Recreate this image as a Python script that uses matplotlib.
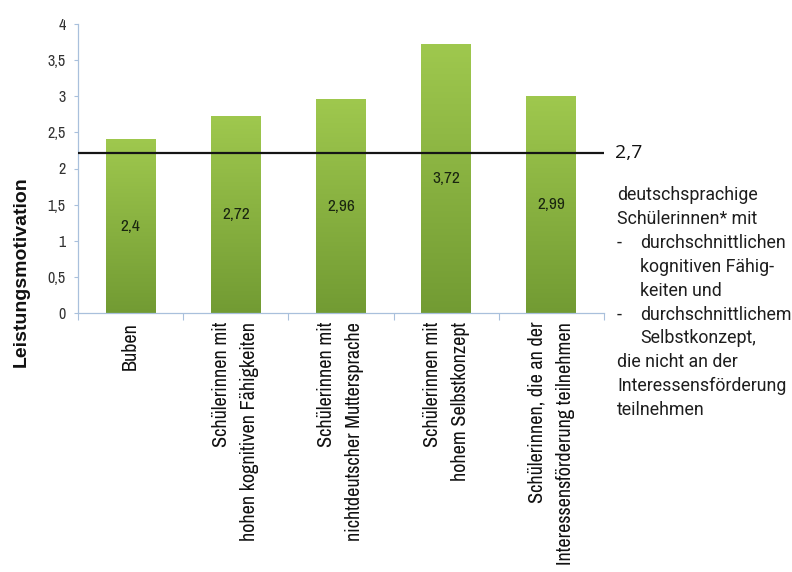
import matplotlib
matplotlib.use('Agg')
import matplotlib.pyplot as plt
import matplotlib.transforms as mtransforms
from matplotlib.colors import LinearSegmentedColormap
import numpy as np

# data
categories = ['Buben',
              'Schülerinnen mit\nhohen kognitiven Fähigkeiten',
              'Schülerinnen mit\nnichtdeutscher Muttersprache',
              'Schülerinnen mit\nhohem Selbstkonzept',
              'Schülerinnen, die an der\nInteressensförderung teilnehmen']
values = [2.4, 2.72, 2.96, 3.72, 2.99]
value_labels = ['2,4', '2,72', '2,96', '3,72', '2,99']
ref_value = 2.22      # height at which the reference line is drawn
ref_label = '2,7'
yticks = [0, 0.5, 1, 1.5, 2, 2.5, 3, 3.5, 4]
ytick_labels = ['0', '0,5', '1', '1,5', '2', '2,5', '3', '3,5', '4']
note_lines = ['deutschsprachige', 'Schülerinnen* mit', 'durchschnittlichen',
              'kognitiven Fähig-', 'keiten und', 'durchschnittlichem',
              'Selbstkonzept,', 'die nicht an der', 'Interessensförderung',
              'teilnehmen']
note_indent = [0, 0, 1, 1, 1, 1, 1, 0, 0, 0]
note_dash = [0, 0, 1, 0, 0, 1, 0, 0, 0, 0]

NARROW = ['Archivo Narrow', 'DejaVu Sans']
axis_col = '#a9c0dc'

fig = plt.figure(figsize=(7.92, 5.72), dpi=100)
ax = fig.add_axes([78 / 792, 1 - 313 / 572, 526 / 792, 289 / 572])

green = LinearSegmentedColormap.from_list('g', ['#729b33', '#9fc84e'])
grad = np.linspace(0, 1, 256).reshape(-1, 1)
x = np.arange(len(values))
width = 0.475
for xi, v, lab in zip(x, values, value_labels):
    ax.imshow(grad, extent=[xi - width / 2, xi + width / 2, 0, v], origin='lower',
              aspect='auto', cmap=green, zorder=2)
    ax.text(xi, v / 2, lab, ha='center', va='center', fontsize=12.5,
            family=NARROW, color='#1a2610', zorder=3)

ax.axhline(ref_value, color='#151515', lw=1.6, zorder=4)

ax.set_xlim(-0.5, len(values) - 0.5)
ax.set_ylim(0, 4)
ax.set_yticks(yticks)
ax.set_yticklabels(ytick_labels, family=NARROW, fontsize=11.5, color='#333333')
ax.set_xticks([])
ax.set_xticks(np.arange(len(values) + 1) - 0.5, minor=True)
ax.tick_params(axis='x', which='minor', length=5, color=axis_col, width=0.8)
ax.tick_params(axis='y', length=3, color=axis_col, width=0.8, pad=6)
for s in ['top', 'right']:
    ax.spines[s].set_visible(False)
for s in ['left', 'bottom']:
    ax.spines[s].set_color(axis_col)
    ax.spines[s].set_linewidth(0.9)

trans = mtransforms.blended_transform_factory(ax.transData, ax.transAxes)
for xi, cat in zip(x, categories):
    ax.text(xi, -0.03, cat, transform=trans, rotation=90, ha='center', va='top',
            multialignment='right', fontsize=14.5, family=NARROW,
            linespacing=1.6, color='#111111')

fig.text(21 / 792, 1 - 272 / 572, 'Leistungsmotivation', rotation=90,
         ha='center', va='center', fontsize=14, fontweight='bold',
         family='Liberation Sans', color='#111111')

fig.text(615 / 792, 1 - 153 / 572, ref_label, ha='left', va='center',
         fontsize=14, family='Open Sans', color='#111111')

y0, step = 195, 23.9
for i, (line, ind, dash) in enumerate(zip(note_lines, note_indent, note_dash)):
    yy = 1 - (y0 + i * step) / 572
    if dash:
        fig.text(617 / 792, yy, '-', ha='left', va='center', fontsize=12.8,
                 family='Roboto', color='#1e1e1e')
    fig.text((617 + 23 * ind) / 792, yy, line, ha='left', va='center',
             fontsize=12.8, family='Roboto', color='#1e1e1e')

fig.savefig('out.png', dpi=100)
